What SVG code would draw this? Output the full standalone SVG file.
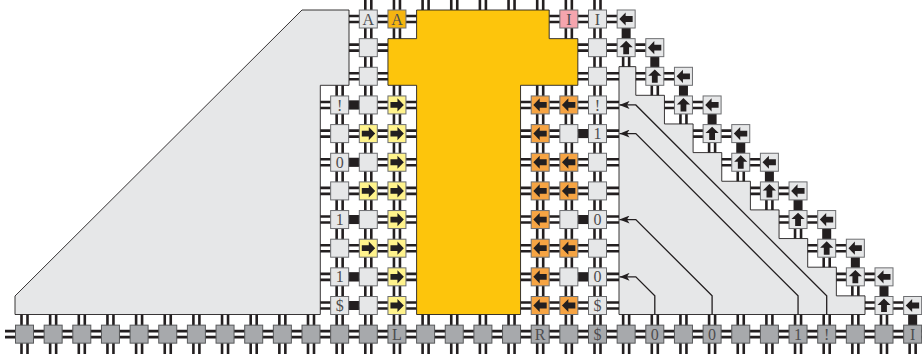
<svg xmlns="http://www.w3.org/2000/svg" width="922" height="354" viewBox="0 0 922 354">
<style>
.cl{fill:#e6e7e8;stroke:#6d6e71;stroke-width:1}
.cb{fill:#a7a9ac;stroke:#58595b;stroke-width:1}
.cy{fill:#fff38c;stroke:#6d6e71;stroke-width:1}
.co{fill:#f6a443;stroke:#6d6e71;stroke-width:1}
.cp{fill:#f5a5ae;stroke:#6d6e71;stroke-width:1}
.cg{fill:#f6b511;stroke:#6d6e71;stroke-width:1}
.w{fill:none;stroke:#231f20;stroke-width:2.6}
.bar{fill:#231f20}
.t{font-family:"Liberation Serif","Times New Roman",serif;font-size:16px;fill:#4d4d4f;text-anchor:middle}
.reg{fill:#e6e7e8;stroke:#231f20;stroke-width:0.9}
.yel{fill:#fdc50c;stroke:#231f20;stroke-width:0.9}
.sig{fill:none;stroke:#231f20;stroke-width:1.3}
.ag{fill:#231f20}
</style>
<defs>
<path id="ar" class="ag" d="M-6.5,-2.9H0.5V-6.6L6.9,0L0.5,6.6V2.9H-6.5Z"/>
<marker id="ah" markerUnits="userSpaceOnUse" markerWidth="10" markerHeight="8" viewBox="0 0 10 8" refX="10" refY="4" orient="auto"><path d="M0,0L10,4L0,8L2.5,4Z" fill="#231f20"/></marker>
</defs>

<g id="connectors">
<path class="w" d="
M349 16H416.6M349 22H416.6M549.2 16H617.15M549.2 22H617.15
M349 44.65H387.95M349 50.65H387.95M577.85 44.65H645.8M577.85 50.65H645.8
M349 73.3H387.95M349 79.3H387.95M577.85 73.3H619M577.85 79.3H619M635.15 73.3H674.45M635.15 79.3H674.45
M320 101.95H416.6M320 107.95H416.6M520.55 101.95H619M520.55 107.95H619M663.8 101.95H703.1M663.8 107.95H703.1
M320 130.6H416.6M320 136.6H416.6M520.55 130.6H619M520.55 136.6H619M692.45 130.6H731.75M692.45 136.6H731.75
M320 159.25H416.6M320 165.25H416.6M520.55 159.25H619M520.55 165.25H619M721.1 159.25H760.4M721.1 165.25H760.4
M320 187.9H416.6M320 193.9H416.6M520.55 187.9H619M520.55 193.9H619M749.75 187.9H789.05M749.75 193.9H789.05
M320 216.55H416.6M320 222.55H416.6M520.55 216.55H619M520.55 222.55H619M778.4 216.55H817.7M778.4 222.55H817.7
M320 245.2H416.6M320 251.2H416.6M520.55 245.2H619M520.55 251.2H619M807.05 245.2H846.35M807.05 251.2H846.35
M320 273.85H416.6M320 279.85H416.6M520.55 273.85H619M520.55 279.85H619M835.7 273.85H875M835.7 279.85H875
M320 302.5H416.6M320 308.5H416.6M520.55 302.5H619M520.55 308.5H619M864.35 302.5H903.65M864.35 308.5H903.65
M5 331.15H922M5 337.15H922
M336.65 85.3V325.15M342.65 85.3V325.15
M365.3 0V325.15M371.3 0V325.15
M393.95 0V38.65M399.95 0V38.65M393.95 85.3V325.15M399.95 85.3V325.15
M422.6 0V10M428.6 0V10M451.25 0V10M457.25 0V10M479.9 0V10M485.9 0V10M508.55 0V10M514.55 0V10
M537.2 0V10M543.2 0V10M537.2 85.3V325.15M543.2 85.3V325.15
M565.85 0V38.65M571.85 0V38.65M565.85 85.3V325.15M571.85 85.3V325.15
M594.5 0V325.15M600.5 0V325.15
M21.5 314.5V354M27.5 314.5V354M50.15 314.5V354M56.15 314.5V354M78.8 314.5V354M84.8 314.5V354
M107.45 314.5V354M113.45 314.5V354M136.1 314.5V354M142.1 314.5V354M164.75 314.5V354M170.75 314.5V354
M193.4 314.5V354M199.4 314.5V354M222.05 314.5V354M228.05 314.5V354M250.7 314.5V354M256.7 314.5V354
M279.35 314.5V354M285.35 314.5V354M308 314.5V354M314 314.5V354M336.65 314.5V354M342.65 314.5V354
M365.3 314.5V354M371.3 314.5V354M393.95 314.5V354M399.95 314.5V354M422.6 314.5V354M428.6 314.5V354
M451.25 314.5V354M457.25 314.5V354M479.9 314.5V354M485.9 314.5V354M508.55 314.5V354M514.55 314.5V354
M537.2 314.5V354M543.2 314.5V354M565.85 314.5V354M571.85 314.5V354M594.5 314.5V354M600.5 314.5V354
M623.15 314.5V354M629.15 314.5V354M651.8 314.5V354M657.8 314.5V354M680.45 314.5V354M686.45 314.5V354
M709.1 314.5V354M715.1 314.5V354M737.75 314.5V354M743.75 314.5V354M766.4 314.5V354M772.4 314.5V354
M795.05 314.5V354M801.05 314.5V354M823.7 314.5V354M829.7 314.5V354M852.35 314.5V354M858.35 314.5V354
M881 314.5V354M887 314.5V354M909.65 343.15V354M915.65 343.15V354
M623.15 56.65V67.3M629.15 56.65V67.3M651.8 85.3V95.95M657.8 85.3V95.95M680.45 113.95V124.6M686.45 113.95V124.6
M709.1 142.6V153.25M715.1 142.6V153.25M737.75 171.25V181.9M743.75 171.25V181.9M766.4 199.9V210.55M772.4 199.9V210.55
M795.05 228.55V239.2M801.05 228.55V239.2M823.7 257.2V267.85M829.7 257.2V267.85M852.35 285.85V296.5M858.35 285.85V296.5"/>
<rect class="bar" x="621.65" y="28" width="9" height="10.65"/>
<rect class="bar" x="650.3" y="56.65" width="9" height="10.65"/>
<rect class="bar" x="678.95" y="85.3" width="9" height="10.65"/>
<rect class="bar" x="707.6" y="113.95" width="9" height="10.65"/>
<rect class="bar" x="736.25" y="142.6" width="9" height="10.65"/>
<rect class="bar" x="764.9" y="171.25" width="9" height="10.65"/>
<rect class="bar" x="793.55" y="199.9" width="9" height="10.65"/>
<rect class="bar" x="822.2" y="228.55" width="9" height="10.65"/>
<rect class="bar" x="850.85" y="257.2" width="9" height="10.65"/>
<rect class="bar" x="879.5" y="285.85" width="9" height="10.65"/>
<rect class="bar" x="908.15" y="314.5" width="9" height="10.65"/>
<rect class="bar" x="348.65" y="100.45" width="10.65" height="9"/>
<rect class="bar" x="348.65" y="157.75" width="10.65" height="9"/>
<rect class="bar" x="348.65" y="215.05" width="10.65" height="9"/>
<rect class="bar" x="348.65" y="272.35" width="10.65" height="9"/>
<rect class="bar" x="348.65" y="301" width="10.65" height="9"/>
<rect class="bar" x="577.85" y="129.1" width="10.65" height="9"/>
<rect class="bar" x="577.85" y="215.05" width="10.65" height="9"/>
<rect class="bar" x="577.85" y="272.35" width="10.65" height="9"/>
</g>

<g id="regions">
<path id="left-area" class="reg" d="M15 296L302 10H349V85.3H320.3V314.5H15Z"/>
<path id="right-area" class="reg" d="M619 66.65H635.8V95.3H664.45V123.95H693.1V152.6H721.75V181.25H750.4V209.9H779.05V238.55H807.7V267.2H836.35V295.85H865V314.5H619Z"/>
<path id="head" class="yel" d="M416.6 10H549.2V38.65H577.85V85.3H520.55V314.5H416.6V85.3H387.95V38.65H416.6Z"/>
</g>

<g id="signal-lines">
<path class="sig" marker-end="url(#ah)" d="M826.7 314.5V295.85L635.8 104.95H619.5"/>
<path class="sig" marker-end="url(#ah)" d="M798.05 314.5V295.85L635.8 133.6H619.5"/>
<path class="sig" marker-end="url(#ah)" d="M712.1 314.5V295.85L635.8 219.55H619.5"/>
<path class="sig" marker-end="url(#ah)" d="M654.8 314.5V295.85L635.8 276.85H619.5"/>
</g>

<g id="nodes">
<g id="b0"><rect class="cb" x="15.5" y="325.15" width="18" height="18"/></g>
<g id="b1"><rect class="cb" x="44.15" y="325.15" width="18" height="18"/></g>
<g id="b2"><rect class="cb" x="72.8" y="325.15" width="18" height="18"/></g>
<g id="b3"><rect class="cb" x="101.45" y="325.15" width="18" height="18"/></g>
<g id="b4"><rect class="cb" x="130.1" y="325.15" width="18" height="18"/></g>
<g id="b5"><rect class="cb" x="158.75" y="325.15" width="18" height="18"/></g>
<g id="b6"><rect class="cb" x="187.4" y="325.15" width="18" height="18"/></g>
<g id="b7"><rect class="cb" x="216.05" y="325.15" width="18" height="18"/></g>
<g id="b8"><rect class="cb" x="244.7" y="325.15" width="18" height="18"/></g>
<g id="b9"><rect class="cb" x="273.35" y="325.15" width="18" height="18"/></g>
<g id="b10"><rect class="cb" x="302" y="325.15" width="18" height="18"/></g>
<g id="b11"><rect class="cb" x="330.65" y="325.15" width="18" height="18"/></g>
<g id="b12"><rect class="cb" x="359.3" y="325.15" width="18" height="18"/></g>
<g id="b13"><rect class="cb" x="387.95" y="325.15" width="18" height="18"/><text class="t" x="396.95" y="339.8">L</text></g>
<g id="b14"><rect class="cb" x="416.6" y="325.15" width="18" height="18"/></g>
<g id="b15"><rect class="cb" x="445.25" y="325.15" width="18" height="18"/></g>
<g id="b16"><rect class="cb" x="473.9" y="325.15" width="18" height="18"/></g>
<g id="b17"><rect class="cb" x="502.55" y="325.15" width="18" height="18"/></g>
<g id="b18"><rect class="cb" x="531.2" y="325.15" width="18" height="18"/><text class="t" x="540.2" y="339.8">R</text></g>
<g id="b19"><rect class="cb" x="559.85" y="325.15" width="18" height="18"/></g>
<g id="b20"><rect class="cb" x="588.5" y="325.15" width="18" height="18"/><text class="t" x="597.5" y="339.8">$</text></g>
<g id="b21"><rect class="cb" x="617.15" y="325.15" width="18" height="18"/></g>
<g id="b22"><rect class="cb" x="645.8" y="325.15" width="18" height="18"/><text class="t" x="654.8" y="339.8">0</text></g>
<g id="b23"><rect class="cb" x="674.45" y="325.15" width="18" height="18"/></g>
<g id="b24"><rect class="cb" x="703.1" y="325.15" width="18" height="18"/><text class="t" x="712.1" y="339.8">0</text></g>
<g id="b25"><rect class="cb" x="731.75" y="325.15" width="18" height="18"/></g>
<g id="b26"><rect class="cb" x="760.4" y="325.15" width="18" height="18"/></g>
<g id="b27"><rect class="cb" x="789.05" y="325.15" width="18" height="18"/><text class="t" x="798.05" y="339.8">1</text></g>
<g id="b28"><rect class="cb" x="817.7" y="325.15" width="18" height="18"/><text class="t" x="826.7" y="339.8">!</text></g>
<g id="b29"><rect class="cb" x="846.35" y="325.15" width="18" height="18"/></g>
<g id="b30"><rect class="cb" x="875" y="325.15" width="18" height="18"/></g>
<g id="b31"><rect class="cb" x="903.65" y="325.15" width="18" height="18"/><text class="t" x="912.65" y="339.8">I</text></g>

<g id="r0c12"><rect class="cl" x="359.3" y="10" width="18" height="18"/><text class="t" x="368.3" y="24.6">A</text></g>
<g id="r0c13"><rect class="cg" x="387.95" y="10" width="18" height="18"/><text class="t" x="396.95" y="24.6">A</text></g>
<g id="r0c19"><rect class="cp" x="559.85" y="10" width="18" height="18"/><text class="t" x="568.85" y="24.6">I</text></g>
<g id="r0c20"><rect class="cl" x="588.5" y="10" width="18" height="18"/><text class="t" x="597.5" y="24.6">I</text></g>
<g id="r0c21"><rect class="cl" x="617.15" y="10" width="18" height="18"/><use href="#ar" transform="translate(626.15 19) rotate(180)"/></g>
<g id="r1c12"><rect class="cl" x="359.3" y="38.65" width="18" height="18"/></g>
<g id="r2c12"><rect class="cl" x="359.3" y="67.3" width="18" height="18"/></g>
<g id="r1c20"><rect class="cl" x="588.5" y="38.65" width="18" height="18"/></g>
<g id="r2c20"><rect class="cl" x="588.5" y="67.3" width="18" height="18"/></g>

<g id="r1c21"><rect class="cl" x="617.15" y="38.65" width="18" height="18"/><use href="#ar" transform="translate(626.15 47.65) rotate(-90)"/></g>
<g id="r1c22"><rect class="cl" x="645.8" y="38.65" width="18" height="18"/><use href="#ar" transform="translate(654.8 47.65) rotate(180)"/></g>
<g id="r2c22"><rect class="cl" x="645.8" y="67.3" width="18" height="18"/><use href="#ar" transform="translate(654.8 76.3) rotate(-90)"/></g>
<g id="r2c23"><rect class="cl" x="674.45" y="67.3" width="18" height="18"/><use href="#ar" transform="translate(683.45 76.3) rotate(180)"/></g>
<g id="r3c23"><rect class="cl" x="674.45" y="95.95" width="18" height="18"/><use href="#ar" transform="translate(683.45 104.95) rotate(-90)"/></g>
<g id="r3c24"><rect class="cl" x="703.1" y="95.95" width="18" height="18"/><use href="#ar" transform="translate(712.1 104.95) rotate(180)"/></g>
<g id="r4c24"><rect class="cl" x="703.1" y="124.6" width="18" height="18"/><use href="#ar" transform="translate(712.1 133.6) rotate(-90)"/></g>
<g id="r4c25"><rect class="cl" x="731.75" y="124.6" width="18" height="18"/><use href="#ar" transform="translate(740.75 133.6) rotate(180)"/></g>
<g id="r5c25"><rect class="cl" x="731.75" y="153.25" width="18" height="18"/><use href="#ar" transform="translate(740.75 162.25) rotate(-90)"/></g>
<g id="r5c26"><rect class="cl" x="760.4" y="153.25" width="18" height="18"/><use href="#ar" transform="translate(769.4 162.25) rotate(180)"/></g>
<g id="r6c26"><rect class="cl" x="760.4" y="181.9" width="18" height="18"/><use href="#ar" transform="translate(769.4 190.9) rotate(-90)"/></g>
<g id="r6c27"><rect class="cl" x="789.05" y="181.9" width="18" height="18"/><use href="#ar" transform="translate(798.05 190.9) rotate(180)"/></g>
<g id="r7c27"><rect class="cl" x="789.05" y="210.55" width="18" height="18"/><use href="#ar" transform="translate(798.05 219.55) rotate(-90)"/></g>
<g id="r7c28"><rect class="cl" x="817.7" y="210.55" width="18" height="18"/><use href="#ar" transform="translate(826.7 219.55) rotate(180)"/></g>
<g id="r8c28"><rect class="cl" x="817.7" y="239.2" width="18" height="18"/><use href="#ar" transform="translate(826.7 248.2) rotate(-90)"/></g>
<g id="r8c29"><rect class="cl" x="846.35" y="239.2" width="18" height="18"/><use href="#ar" transform="translate(855.35 248.2) rotate(180)"/></g>
<g id="r9c29"><rect class="cl" x="846.35" y="267.85" width="18" height="18"/><use href="#ar" transform="translate(855.35 276.85) rotate(-90)"/></g>
<g id="r9c30"><rect class="cl" x="875" y="267.85" width="18" height="18"/><use href="#ar" transform="translate(884 276.85) rotate(180)"/></g>
<g id="r10c30"><rect class="cl" x="875" y="296.5" width="18" height="18"/><use href="#ar" transform="translate(884 305.5) rotate(-90)"/></g>
<g id="r10c31"><rect class="cl" x="903.65" y="296.5" width="18" height="18"/><use href="#ar" transform="translate(912.65 305.5) rotate(180)"/></g>

<g id="r3c11"><rect class="cl" x="330.65" y="95.95" width="18" height="18"/><text class="t" x="339.65" y="110.55">!</text></g>
<g id="r3c12"><rect class="cl" x="359.3" y="95.95" width="18" height="18"/></g>
<g id="r3c13"><rect class="cy" x="387.95" y="95.95" width="18" height="18"/><use href="#ar" transform="translate(396.95 104.95)"/></g>
<g id="r4c11"><rect class="cl" x="330.65" y="124.6" width="18" height="18"/></g>
<g id="r4c12"><rect class="cy" x="359.3" y="124.6" width="18" height="18"/><use href="#ar" transform="translate(368.3 133.6)"/></g>
<g id="r4c13"><rect class="cy" x="387.95" y="124.6" width="18" height="18"/><use href="#ar" transform="translate(396.95 133.6)"/></g>
<g id="r5c11"><rect class="cl" x="330.65" y="153.25" width="18" height="18"/><text class="t" x="339.65" y="167.85">0</text></g>
<g id="r5c12"><rect class="cl" x="359.3" y="153.25" width="18" height="18"/></g>
<g id="r5c13"><rect class="cy" x="387.95" y="153.25" width="18" height="18"/><use href="#ar" transform="translate(396.95 162.25)"/></g>
<g id="r6c11"><rect class="cl" x="330.65" y="181.9" width="18" height="18"/></g>
<g id="r6c12"><rect class="cy" x="359.3" y="181.9" width="18" height="18"/><use href="#ar" transform="translate(368.3 190.9)"/></g>
<g id="r6c13"><rect class="cy" x="387.95" y="181.9" width="18" height="18"/><use href="#ar" transform="translate(396.95 190.9)"/></g>
<g id="r7c11"><rect class="cl" x="330.65" y="210.55" width="18" height="18"/><text class="t" x="339.65" y="225.15">1</text></g>
<g id="r7c12"><rect class="cl" x="359.3" y="210.55" width="18" height="18"/></g>
<g id="r7c13"><rect class="cy" x="387.95" y="210.55" width="18" height="18"/><use href="#ar" transform="translate(396.95 219.55)"/></g>
<g id="r8c11"><rect class="cl" x="330.65" y="239.2" width="18" height="18"/></g>
<g id="r8c12"><rect class="cy" x="359.3" y="239.2" width="18" height="18"/><use href="#ar" transform="translate(368.3 248.2)"/></g>
<g id="r8c13"><rect class="cy" x="387.95" y="239.2" width="18" height="18"/><use href="#ar" transform="translate(396.95 248.2)"/></g>
<g id="r9c11"><rect class="cl" x="330.65" y="267.85" width="18" height="18"/><text class="t" x="339.65" y="282.45">1</text></g>
<g id="r9c12"><rect class="cl" x="359.3" y="267.85" width="18" height="18"/></g>
<g id="r9c13"><rect class="cy" x="387.95" y="267.85" width="18" height="18"/><use href="#ar" transform="translate(396.95 276.85)"/></g>
<g id="r10c11"><rect class="cl" x="330.65" y="296.5" width="18" height="18"/><text class="t" x="339.65" y="311.1">$</text></g>
<g id="r10c12"><rect class="cl" x="359.3" y="296.5" width="18" height="18"/></g>
<g id="r10c13"><rect class="cy" x="387.95" y="296.5" width="18" height="18"/><use href="#ar" transform="translate(396.95 305.5)"/></g>

<g id="r3c18"><rect class="co" x="531.2" y="95.95" width="18" height="18"/><use href="#ar" transform="translate(540.2 104.95) rotate(180)"/></g>
<g id="r3c19"><rect class="co" x="559.85" y="95.95" width="18" height="18"/><use href="#ar" transform="translate(568.85 104.95) rotate(180)"/></g>
<g id="r3c20"><rect class="cl" x="588.5" y="95.95" width="18" height="18"/><text class="t" x="597.5" y="110.55">!</text></g>
<g id="r4c18"><rect class="co" x="531.2" y="124.6" width="18" height="18"/><use href="#ar" transform="translate(540.2 133.6) rotate(180)"/></g>
<g id="r4c19"><rect class="cl" x="559.85" y="124.6" width="18" height="18"/></g>
<g id="r4c20"><rect class="cl" x="588.5" y="124.6" width="18" height="18"/><text class="t" x="597.5" y="139.2">1</text></g>
<g id="r5c18"><rect class="co" x="531.2" y="153.25" width="18" height="18"/><use href="#ar" transform="translate(540.2 162.25) rotate(180)"/></g>
<g id="r5c19"><rect class="co" x="559.85" y="153.25" width="18" height="18"/><use href="#ar" transform="translate(568.85 162.25) rotate(180)"/></g>
<g id="r5c20"><rect class="cl" x="588.5" y="153.25" width="18" height="18"/></g>
<g id="r6c18"><rect class="co" x="531.2" y="181.9" width="18" height="18"/><use href="#ar" transform="translate(540.2 190.9) rotate(180)"/></g>
<g id="r6c19"><rect class="co" x="559.85" y="181.9" width="18" height="18"/><use href="#ar" transform="translate(568.85 190.9) rotate(180)"/></g>
<g id="r6c20"><rect class="cl" x="588.5" y="181.9" width="18" height="18"/></g>
<g id="r7c18"><rect class="co" x="531.2" y="210.55" width="18" height="18"/><use href="#ar" transform="translate(540.2 219.55) rotate(180)"/></g>
<g id="r7c19"><rect class="cl" x="559.85" y="210.55" width="18" height="18"/></g>
<g id="r7c20"><rect class="cl" x="588.5" y="210.55" width="18" height="18"/><text class="t" x="597.5" y="225.15">0</text></g>
<g id="r8c18"><rect class="co" x="531.2" y="239.2" width="18" height="18"/><use href="#ar" transform="translate(540.2 248.2) rotate(180)"/></g>
<g id="r8c19"><rect class="co" x="559.85" y="239.2" width="18" height="18"/><use href="#ar" transform="translate(568.85 248.2) rotate(180)"/></g>
<g id="r8c20"><rect class="cl" x="588.5" y="239.2" width="18" height="18"/></g>
<g id="r9c18"><rect class="co" x="531.2" y="267.85" width="18" height="18"/><use href="#ar" transform="translate(540.2 276.85) rotate(180)"/></g>
<g id="r9c19"><rect class="cl" x="559.85" y="267.85" width="18" height="18"/></g>
<g id="r9c20"><rect class="cl" x="588.5" y="267.85" width="18" height="18"/><text class="t" x="597.5" y="282.45">0</text></g>
<g id="r10c18"><rect class="co" x="531.2" y="296.5" width="18" height="18"/><use href="#ar" transform="translate(540.2 305.5) rotate(180)"/></g>
<g id="r10c19"><rect class="co" x="559.85" y="296.5" width="18" height="18"/><use href="#ar" transform="translate(568.85 305.5) rotate(180)"/></g>
<g id="r10c20"><rect class="cl" x="588.5" y="296.5" width="18" height="18"/><text class="t" x="597.5" y="311.1">$</text></g>
</g>
</svg>
